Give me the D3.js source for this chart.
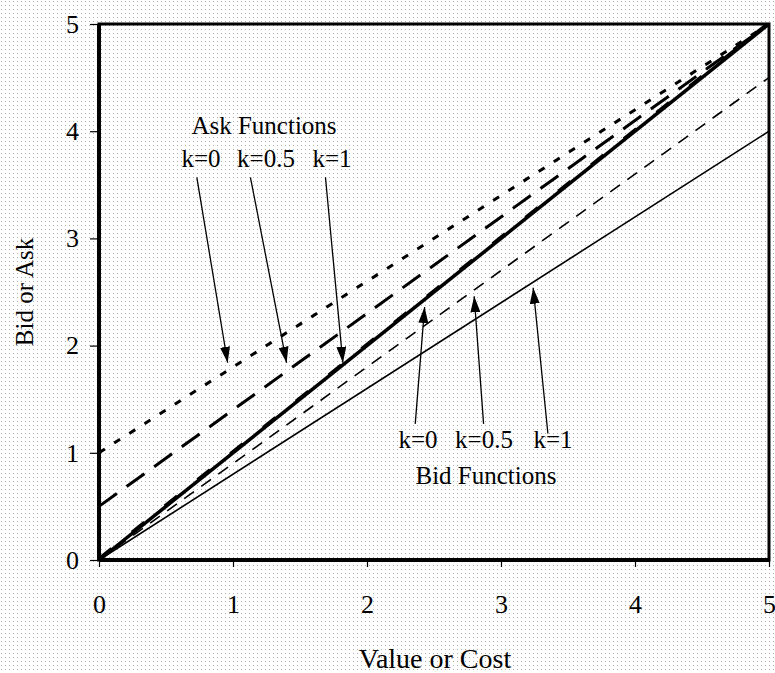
<!DOCTYPE html>
<html><head><meta charset="utf-8">
<script src="https://cdn.jsdelivr.net/npm/d3@7"></script>
<style>
body{margin:0;background:#fff;}
svg{display:block;}
text{font-family:"Liberation Serif","Times New Roman",serif;fill:#000;}
</style></head>
<body>
<svg id="chart" width="775" height="673"></svg>
<script>
// ---- data ----
const xTicks = [0, 1, 2, 3, 4, 5];
const yTicks = [0, 1, 2, 3, 4, 5];
const lineNames = ["Ask k=0", "Ask k=0.5", "Ask k=1", "Bid k=0", "Bid k=0.5", "Bid k=1"];
const lineStart = [[0, 1], [0, 0.5], [0, 0], [0, 0], [0, 0], [0, 0]];
const lineEnd = [[5, 5], [5, 5], [5, 5], [5, 5], [5, 4.5], [5, 4]];
const askLabels = ["k=0", "k=0.5", "k=1"];
const bidLabels = ["k=0", "k=0.5", "k=1"];
// arrow endpoints in data units: [fromX, fromY, toX, toY]
const askArrows = [[0.73, 3.57, 0.96, 1.84], [1.13, 3.57, 1.40, 1.84], [1.69, 3.57, 1.82, 1.84]];
const bidArrows = [[2.36, 1.27, 2.43, 2.36], [2.87, 1.27, 2.80, 2.46], [3.35, 1.18, 3.24, 2.54]];

const svg = d3.select("#chart");
const W = 775, H = 673;
const x = d3.scaleLinear().domain([0, 5]).range([99, 769]);
const y = d3.scaleLinear().domain([0, 5]).range([560, 24]);

// dotted background
const defs = svg.append("defs");
const pat = defs.append("pattern").attr("id", "dots").attr("width", 4).attr("height", 4)
  .attr("patternUnits", "userSpaceOnUse");
pat.append("rect").attr("width", 4).attr("height", 4).attr("fill", "#fff");
pat.append("rect").attr("x", 1).attr("y", 1).attr("width", 1).attr("height", 1).attr("fill", "#b0b0b0");
svg.append("rect").attr("width", W).attr("height", H).attr("fill", "url(#dots)");

defs.append("marker").attr("id", "arrow").attr("viewBox", "0 0 16 10")
  .attr("refX", 16).attr("refY", 5).attr("markerWidth", 16).attr("markerHeight", 10)
  .attr("markerUnits", "userSpaceOnUse").attr("orient", "auto")
  .append("path").attr("d", "M0,0L16,5L0,10Z").attr("fill", "#000");

// lines
const styles = [
  {w: 3, dash: "7,11"},
  {w: 3, dash: "22,12"},
  {w: 3.5, dash: null},
  {w: 3, dash: "16,26", off: -1.5},
  {w: 1.6, dash: "12,9"},
  {w: 1.6, dash: null}
];
lineNames.forEach((n, i) => {
  const s = styles[i];
  svg.append("line")
    .attr("x1", x(lineStart[i][0])).attr("y1", y(lineStart[i][1]) + (s.off || 0))
    .attr("x2", x(lineEnd[i][0])).attr("y2", y(lineEnd[i][1]) + (s.off || 0))
    .attr("stroke", "#000").attr("stroke-width", s.w)
    .attr("stroke-dasharray", s.dash);
});

// axes
const xAxis = svg.append("g").attr("transform", `translate(0,${y(0)})`)
  .call(d3.axisBottom(x).tickValues(xTicks).tickFormat(d3.format("d")).tickSize(7).tickSizeOuter(0));
const yAxis = svg.append("g").attr("transform", `translate(${x(0)},0)`)
  .call(d3.axisLeft(y).tickValues(yTicks).tickFormat(d3.format("d")).tickSize(9).tickSizeOuter(0));
[xAxis, yAxis].forEach(g => {
  g.select(".domain").remove();
  g.selectAll("line").attr("stroke", "#000").attr("stroke-width", 1.2);
  g.selectAll("text").attr("font-size", 26).attr("font-family", "Liberation Serif");
});
xAxis.selectAll("text").attr("dy", 0).attr("y", 53);
yAxis.selectAll("text").attr("x", -20).attr("dy", "0.32em");

// frame
svg.append("rect").attr("x", x(0)).attr("y", y(5)).attr("width", x(5) - x(0)).attr("height", y(0) - y(5))
  .attr("fill", "none").attr("stroke", "#000").attr("stroke-width", 3);
svg.append("line").attr("x1", x(0)).attr("x2", x(5)).attr("y1", y(0)).attr("y2", y(0))
  .attr("stroke", "#000").attr("stroke-width", 4);
svg.append("line").attr("x1", x(0)).attr("x2", x(0)).attr("y1", y(0)).attr("y2", y(5))
  .attr("stroke", "#000").attr("stroke-width", 4);

// titles
svg.append("text").attr("x", 435).attr("y", 668).attr("text-anchor", "middle")
  .attr("font-size", 28).text("Value or Cost");
svg.append("text").attr("transform", "translate(33,292) rotate(-90)").attr("text-anchor", "middle")
  .attr("font-size", 25).text("Bid or Ask");

// annotations
svg.append("text").attr("x", 264).attr("y", 134).attr("text-anchor", "middle")
  .attr("font-size", 25).text("Ask Functions");
const askLx = [201, 266, 332];
askLabels.forEach((t, i) => svg.append("text").attr("x", askLx[i]).attr("y", 167)
  .attr("text-anchor", "middle").attr("font-size", 25).text(t));
svg.append("text").attr("x", 486).attr("y", 484).attr("text-anchor", "middle")
  .attr("font-size", 25).text("Bid Functions");
const bidLx = [418, 484, 553];
bidLabels.forEach((t, i) => svg.append("text").attr("x", bidLx[i]).attr("y", 448)
  .attr("text-anchor", "middle").attr("font-size", 25).text(t));

askArrows.concat(bidArrows).forEach(a => {
  svg.append("line").attr("x1", x(a[0])).attr("y1", y(a[1])).attr("x2", x(a[2])).attr("y2", y(a[3]))
    .attr("stroke", "#000").attr("stroke-width", 1.3).attr("marker-end", "url(#arrow)");
});
</script>
</body></html>
